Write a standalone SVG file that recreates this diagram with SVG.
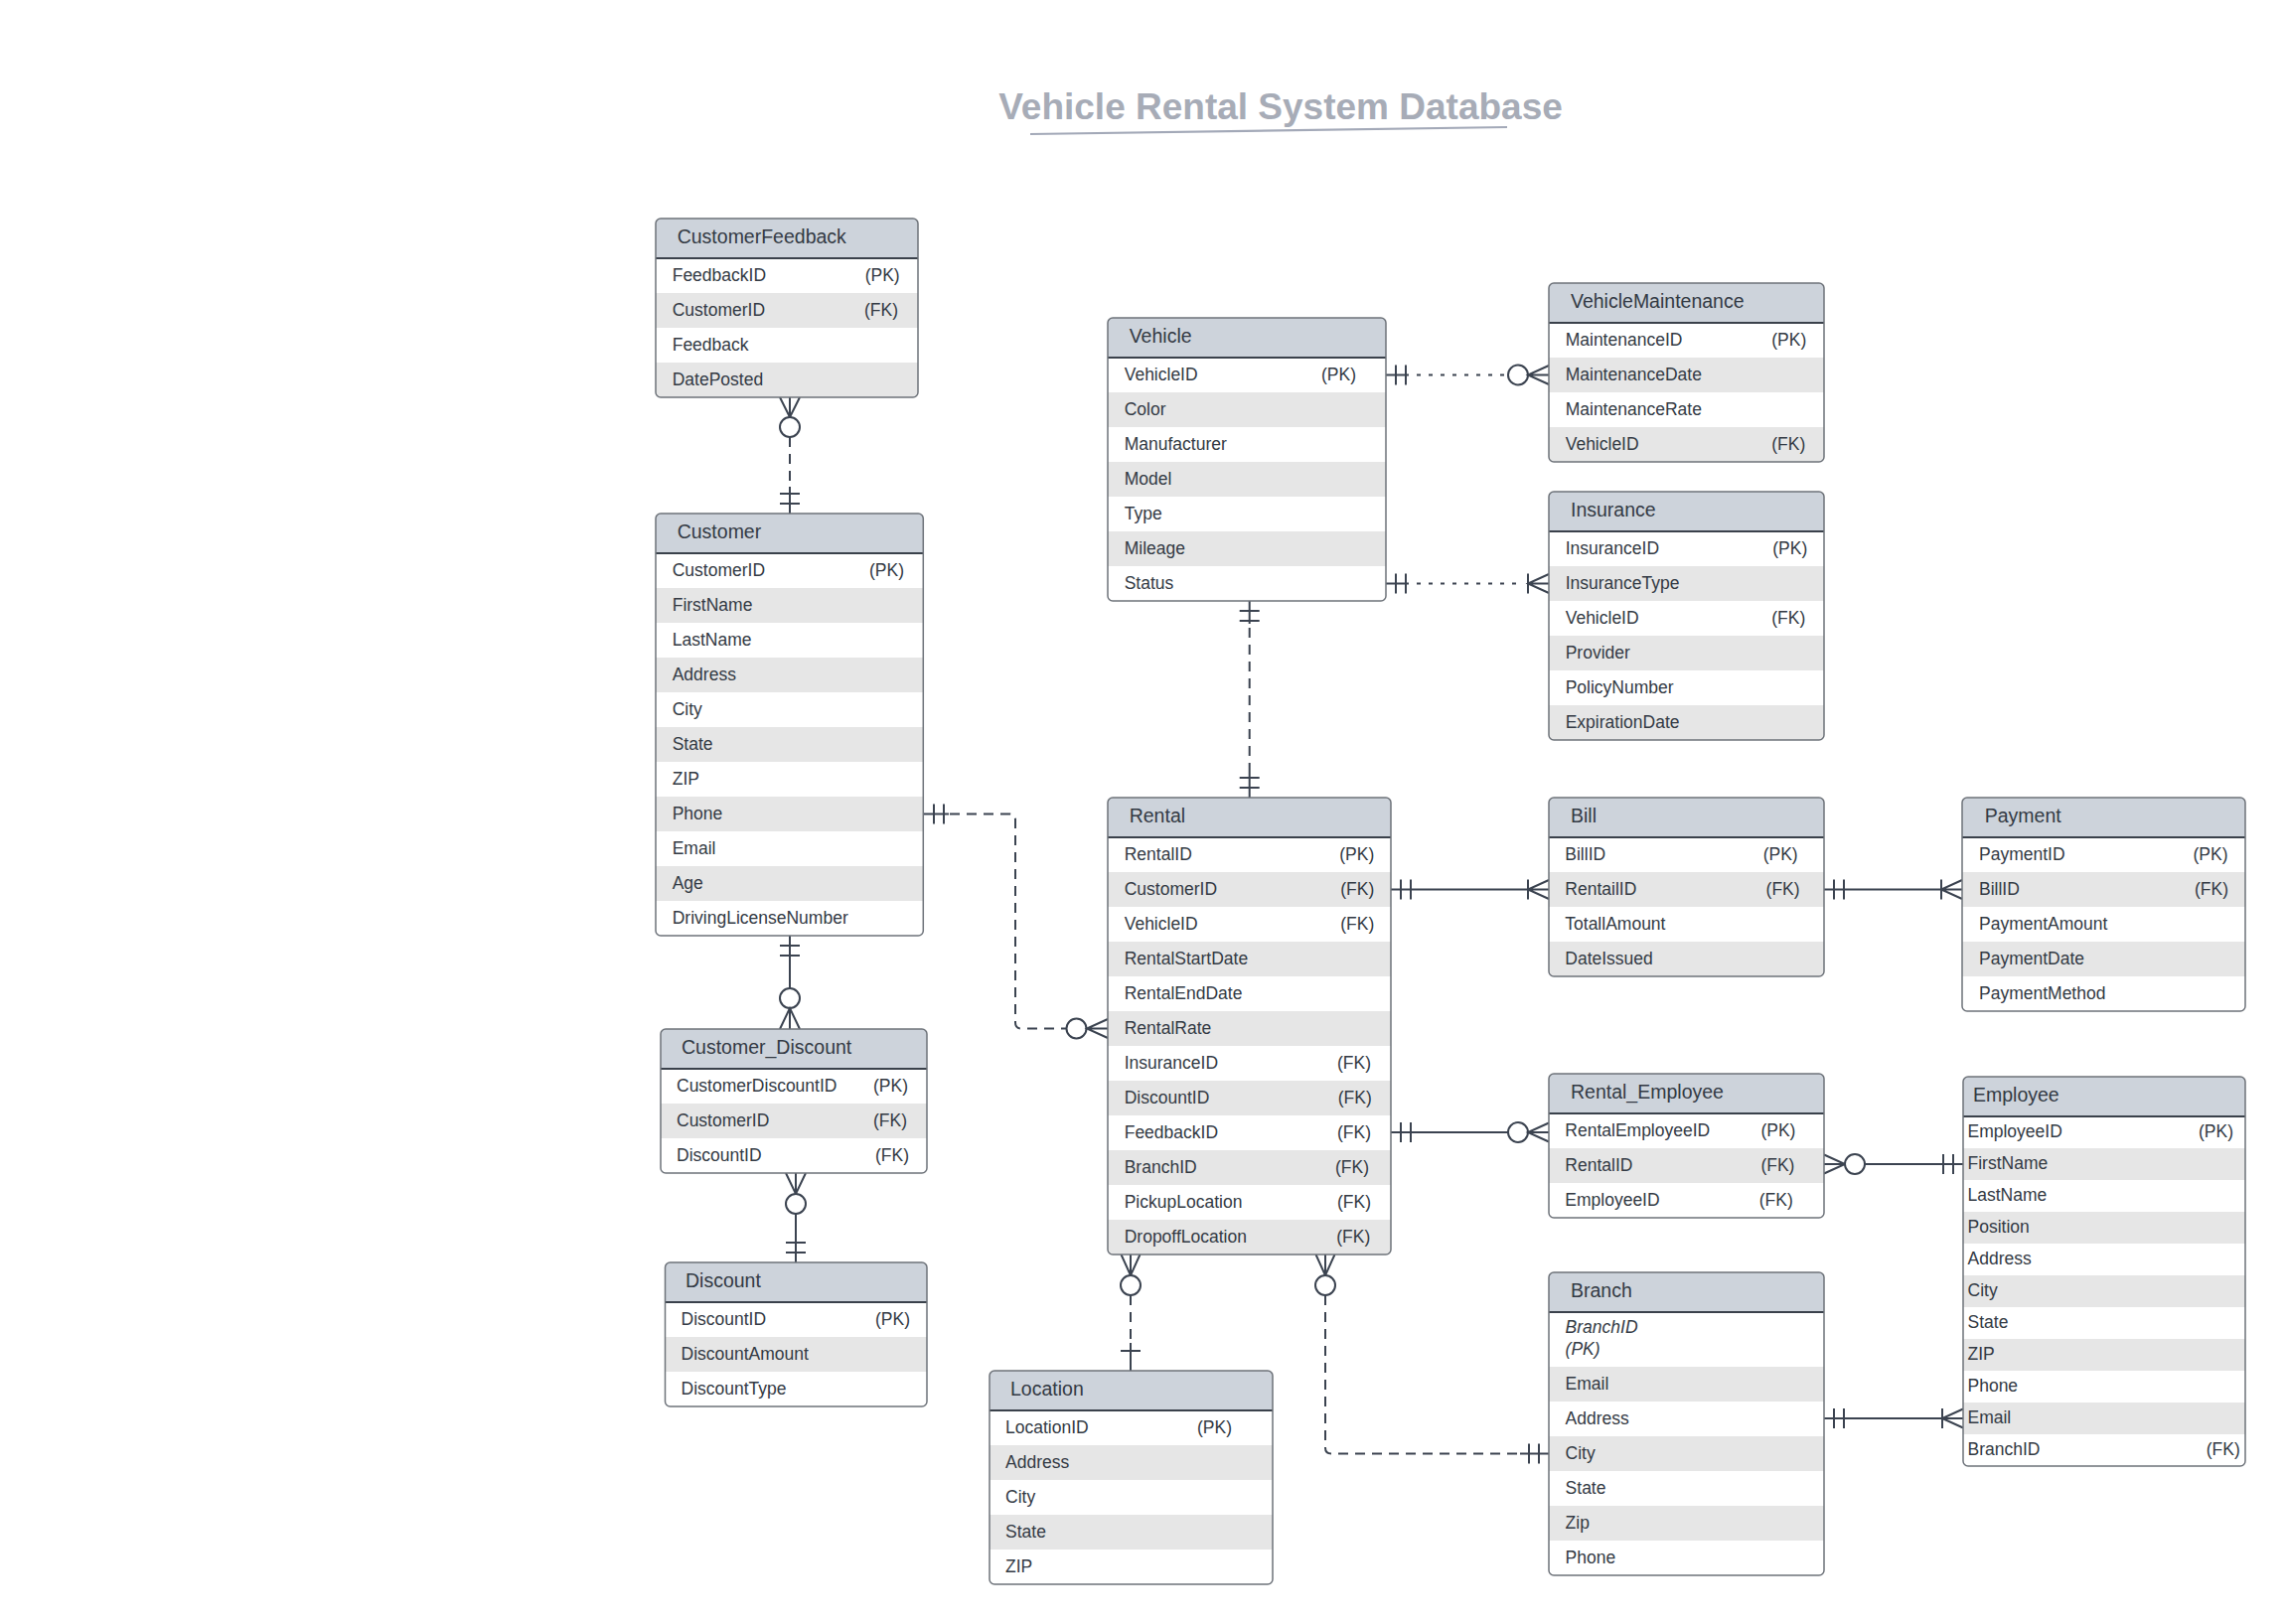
<svg xmlns="http://www.w3.org/2000/svg" width="2301" height="1635" viewBox="0 0 2301 1635">
<style>
.bg{fill:#ffffff}
.hdr{fill:#cdd3db}
.alt{fill:#e6e6e6}
.box{fill:none;stroke:#6e737a;stroke-width:1.5}
.div{stroke:#3a414b;stroke-width:2}
.ht{font-family:"Liberation Sans",Arial,sans-serif;font-size:19.5px;fill:#333a44}
.rt{font-family:"Liberation Sans",Arial,sans-serif;font-size:17.5px;fill:#333a44}
.it{font-style:italic}
.ln{stroke:#3b4350;stroke-width:2;fill:none}
.dash{stroke-dasharray:10 7}
.dot{stroke-dasharray:4 8}
.cir{fill:#ffffff;stroke:#3b4350;stroke-width:2}
.title{font-family:"Liberation Sans",Arial,sans-serif;font-size:37px;font-weight:bold;fill:#a7acb7}
</style>
<defs>
<clipPath id="c1"><rect x="660" y="220" width="264" height="180" rx="5"/></clipPath>
<clipPath id="c2"><rect x="660" y="517" width="269.3" height="425" rx="5"/></clipPath>
<clipPath id="c3"><rect x="665" y="1036" width="268" height="145" rx="5"/></clipPath>
<clipPath id="c4"><rect x="669.5" y="1271" width="263.5" height="145" rx="5"/></clipPath>
<clipPath id="c5"><rect x="996" y="1380" width="285" height="215" rx="5"/></clipPath>
<clipPath id="c6"><rect x="1115" y="320" width="280" height="285" rx="5"/></clipPath>
<clipPath id="c7"><rect x="1559" y="285" width="277" height="180" rx="5"/></clipPath>
<clipPath id="c8"><rect x="1559" y="495" width="277" height="250" rx="5"/></clipPath>
<clipPath id="c9"><rect x="1115" y="803" width="285" height="460" rx="5"/></clipPath>
<clipPath id="c10"><rect x="1559" y="803" width="277" height="180" rx="5"/></clipPath>
<clipPath id="c11"><rect x="1975" y="803" width="285" height="215" rx="5"/></clipPath>
<clipPath id="c12"><rect x="1559" y="1081" width="277" height="145" rx="5"/></clipPath>
<clipPath id="c13"><rect x="1976" y="1084" width="284" height="392" rx="5"/></clipPath>
<clipPath id="c14"><rect x="1559" y="1281" width="277" height="305" rx="5"/></clipPath>
</defs>
<rect x="0" y="0" width="2301" height="1635" fill="#ffffff"/>

<g id="title">
<text class="title" x="1289" y="120" text-anchor="middle">Vehicle Rental System Database</text>
<line x1="1037" y1="135" x2="1517" y2="128" stroke="#a3a9b8" stroke-width="2.2"/>
</g>

<g id="connectors">
<!-- CustomerFeedback - Customer -->
<path class="ln" d="M785,400 L795,420 L805,400 M795,400 V420"/>
<circle class="cir" cx="795" cy="430" r="10"/>
<path class="ln dash" d="M795,440 V492"/>
<path class="ln" d="M795,490 V517 M785,497 H805 M785,507 H805"/>
<!-- Customer - Customer_Discount -->
<path class="ln" d="M795,942 V995 M785,952 H805 M785,962 H805"/>
<circle class="cir" cx="795" cy="1005" r="10"/>
<path class="ln" d="M785,1036 L795,1015 L805,1036 M795,1015 V1036"/>
<!-- Customer_Discount - Discount -->
<path class="ln" d="M791,1181 L801,1202 L811,1181 M801,1181 V1202"/>
<circle class="cir" cx="801" cy="1212" r="10"/>
<path class="ln" d="M801,1222 V1271 M791,1251 H811 M791,1261 H811"/>
<!-- Customer - Rental -->
<path class="ln" d="M929.3,819.5 H955 M940,809.5 V829.5 M950,809.5 V829.5"/>
<path class="ln dash" d="M956,819.5 H1016 Q1022,819.5 1022,825.5 V1029.5 Q1022,1035.5 1028,1035.5 H1073.5"/>
<circle class="cir" cx="1083.5" cy="1035.5" r="10"/>
<path class="ln" d="M1115,1026 L1094,1035.5 L1115,1045 M1094,1035.5 H1115"/>
<!-- Vehicle - VehicleMaintenance -->
<path class="ln" d="M1395,377.5 H1418 M1405,367.5 V387.5 M1415,367.5 V387.5"/>
<path class="ln dot" d="M1426,377.5 H1517.5"/>
<circle class="cir" cx="1528" cy="377.5" r="10"/>
<path class="ln" d="M1559,368 L1538,377.5 L1559,387 M1538,377.5 H1559"/>
<!-- Vehicle - Insurance -->
<path class="ln" d="M1395,587.5 H1418 M1405,577.5 V597.5 M1415,577.5 V597.5"/>
<path class="ln dot" d="M1426,587.5 H1534"/>
<path class="ln" d="M1538,577.5 V597.5 M1559,578 L1538,587.5 L1559,597 M1538,587.5 H1559"/>
<!-- Vehicle - Rental -->
<path class="ln" d="M1257.7,605 V628 M1247.7,615 H1267.7 M1247.7,625 H1267.7"/>
<path class="ln dash" d="M1257.7,632 V778"/>
<path class="ln" d="M1257.7,778 V803 M1247.7,783 H1267.7 M1247.7,793 H1267.7"/>
<!-- Rental - Bill -->
<path class="ln" d="M1400,895.5 H1559 M1410,885.5 V905.5 M1420,885.5 V905.5 M1538,885.5 V905.5 M1559,886 L1538,895.5 L1559,905"/>
<!-- Bill - Payment -->
<path class="ln" d="M1836,895.5 H1975 M1846,885.5 V905.5 M1856,885.5 V905.5 M1954,885.5 V905.5 M1975,886 L1954,895.5 L1975,905"/>
<!-- Rental - Rental_Employee -->
<path class="ln" d="M1400,1140 H1518 M1410,1130 V1150 M1420,1130 V1150"/>
<circle class="cir" cx="1528" cy="1140" r="10"/>
<path class="ln" d="M1559,1130.5 L1538,1140 L1559,1149.5 M1538,1140 H1559"/>
<!-- Rental_Employee - Employee -->
<path class="ln" d="M1836,1162.5 L1857,1172 L1836,1181.5 M1836,1172 H1857"/>
<circle class="cir" cx="1867" cy="1172" r="10"/>
<path class="ln" d="M1877,1172 H1976 M1956,1162 V1182 M1966,1162 V1182"/>
<!-- Branch - Employee -->
<path class="ln" d="M1836,1428 H1976 M1846,1418 V1438 M1856,1418 V1438 M1955,1418 V1438 M1976,1418.5 L1955,1428 L1976,1437.5"/>
<!-- Rental - Location -->
<path class="ln" d="M1128.5,1263 L1138,1284 L1147.5,1263 M1138,1263 V1284"/>
<circle class="cir" cx="1138" cy="1294" r="10"/>
<path class="ln dash" d="M1138,1304 V1352"/>
<path class="ln" d="M1138,1352 V1380 M1128,1360 H1148"/>
<!-- Rental - Branch -->
<path class="ln" d="M1324.5,1263 L1334,1284 L1343.5,1263 M1334,1263 V1284"/>
<circle class="cir" cx="1334" cy="1294" r="10"/>
<path class="ln dash" d="M1334,1304 V1457.5 Q1334,1463.5 1340,1463.5 H1532"/>
<path class="ln" d="M1530,1463.5 H1559 M1539,1453.5 V1473.5 M1549,1453.5 V1473.5"/>
</g>

<g id="customerfeedback">
<g clip-path="url(#c1)">
<rect class="bg" x="660" y="220" width="264" height="180"/>
<rect class="hdr" x="660" y="220" width="264" height="40"/>
<rect class="alt" x="660" y="295" width="264" height="35"/>
<rect class="alt" x="660" y="365" width="264" height="35"/>
</g>
<line class="div" x1="660" y1="260" x2="924" y2="260"/>
<rect class="box" x="660" y="220" width="264" height="180" rx="5"/>
<text class="ht" x="681.7" y="245">CustomerFeedback</text>
<text class="rt" x="676.7" y="282.5">FeedbackID</text><text class="rt" x="870.7" y="282.5">(PK)</text>
<text class="rt" x="676.7" y="317.5">CustomerID</text><text class="rt" x="870" y="317.5">(FK)</text>
<text class="rt" x="676.7" y="352.5">Feedback</text>
<text class="rt" x="676.7" y="387.5">DatePosted</text>
</g>

<g id="customer">
<g clip-path="url(#c2)">
<rect class="bg" x="660" y="517" width="269.3" height="425"/>
<rect class="hdr" x="660" y="517" width="269.3" height="40"/>
<rect class="alt" x="660" y="592" width="269.3" height="35"/>
<rect class="alt" x="660" y="662" width="269.3" height="35"/>
<rect class="alt" x="660" y="732" width="269.3" height="35"/>
<rect class="alt" x="660" y="802" width="269.3" height="35"/>
<rect class="alt" x="660" y="872" width="269.3" height="35"/>
</g>
<line class="div" x1="660" y1="557" x2="929.3" y2="557"/>
<rect class="box" x="660" y="517" width="269.3" height="425" rx="5"/>
<text class="ht" x="681.7" y="542">Customer</text>
<text class="rt" x="676.7" y="579.5">CustomerID</text><text class="rt" x="875" y="579.5">(PK)</text>
<text class="rt" x="676.7" y="614.5">FirstName</text>
<text class="rt" x="676.7" y="649.5">LastName</text>
<text class="rt" x="676.7" y="684.5">Address</text>
<text class="rt" x="676.7" y="719.5">City</text>
<text class="rt" x="676.7" y="754.5">State</text>
<text class="rt" x="676.7" y="789.5">ZIP</text>
<text class="rt" x="676.7" y="824.5">Phone</text>
<text class="rt" x="676.7" y="859.5">Email</text>
<text class="rt" x="676.7" y="894.5">Age</text>
<text class="rt" x="676.7" y="929.5">DrivingLicenseNumber</text>
</g>

<g id="customer_discount">
<g clip-path="url(#c3)">
<rect class="bg" x="665" y="1036" width="268" height="145"/>
<rect class="hdr" x="665" y="1036" width="268" height="40"/>
<rect class="alt" x="665" y="1111" width="268" height="35"/>
</g>
<line class="div" x1="665" y1="1076" x2="933" y2="1076"/>
<rect class="box" x="665" y="1036" width="268" height="145" rx="5"/>
<text class="ht" x="686" y="1061">Customer_Discount</text>
<text class="rt" x="681" y="1098.5">CustomerDiscountID</text><text class="rt" x="879" y="1098.5">(PK)</text>
<text class="rt" x="681" y="1133.5">CustomerID</text><text class="rt" x="879" y="1133.5">(FK)</text>
<text class="rt" x="681" y="1168.5">DiscountID</text><text class="rt" x="881" y="1168.5">(FK)</text>
</g>

<g id="discount">
<g clip-path="url(#c4)">
<rect class="bg" x="669.5" y="1271" width="263.5" height="145"/>
<rect class="hdr" x="669.5" y="1271" width="263.5" height="40"/>
<rect class="alt" x="669.5" y="1346" width="263.5" height="35"/>
</g>
<line class="div" x1="669.5" y1="1311" x2="933" y2="1311"/>
<rect class="box" x="669.5" y="1271" width="263.5" height="145" rx="5"/>
<text class="ht" x="690" y="1296">Discount</text>
<text class="rt" x="685.5" y="1333.5">DiscountID</text><text class="rt" x="881" y="1333.5">(PK)</text>
<text class="rt" x="685.5" y="1368.5">DiscountAmount</text>
<text class="rt" x="685.5" y="1403.5">DiscountType</text>
</g>

<g id="location">
<g clip-path="url(#c5)">
<rect class="bg" x="996" y="1380" width="285" height="215"/>
<rect class="hdr" x="996" y="1380" width="285" height="40"/>
<rect class="alt" x="996" y="1455" width="285" height="35"/>
<rect class="alt" x="996" y="1525" width="285" height="35"/>
</g>
<line class="div" x1="996" y1="1420" x2="1281" y2="1420"/>
<rect class="box" x="996" y="1380" width="285" height="215" rx="5"/>
<text class="ht" x="1017" y="1405">Location</text>
<text class="rt" x="1012" y="1442.5">LocationID</text><text class="rt" x="1205" y="1442.5">(PK)</text>
<text class="rt" x="1012" y="1477.5">Address</text>
<text class="rt" x="1012" y="1512.5">City</text>
<text class="rt" x="1012" y="1547.5">State</text>
<text class="rt" x="1012" y="1582.5">ZIP</text>
</g>

<g id="vehicle">
<g clip-path="url(#c6)">
<rect class="bg" x="1115" y="320" width="280" height="285"/>
<rect class="hdr" x="1115" y="320" width="280" height="40"/>
<rect class="alt" x="1115" y="395" width="280" height="35"/>
<rect class="alt" x="1115" y="465" width="280" height="35"/>
<rect class="alt" x="1115" y="535" width="280" height="35"/>
</g>
<line class="div" x1="1115" y1="360" x2="1395" y2="360"/>
<rect class="box" x="1115" y="320" width="280" height="285" rx="5"/>
<text class="ht" x="1136.7" y="345">Vehicle</text>
<text class="rt" x="1131.7" y="382.5">VehicleID</text><text class="rt" x="1330" y="382.5">(PK)</text>
<text class="rt" x="1131.7" y="417.5">Color</text>
<text class="rt" x="1131.7" y="452.5">Manufacturer</text>
<text class="rt" x="1131.7" y="487.5">Model</text>
<text class="rt" x="1131.7" y="522.5">Type</text>
<text class="rt" x="1131.7" y="557.5">Mileage</text>
<text class="rt" x="1131.7" y="592.5">Status</text>
</g>

<g id="vehiclemaintenance">
<g clip-path="url(#c7)">
<rect class="bg" x="1559" y="285" width="277" height="180"/>
<rect class="hdr" x="1559" y="285" width="277" height="40"/>
<rect class="alt" x="1559" y="360" width="277" height="35"/>
<rect class="alt" x="1559" y="430" width="277" height="35"/>
</g>
<line class="div" x1="1559" y1="325" x2="1836" y2="325"/>
<rect class="box" x="1559" y="285" width="277" height="180" rx="5"/>
<text class="ht" x="1581" y="310">VehicleMaintenance</text>
<text class="rt" x="1575.7" y="347.5">MaintenanceID</text><text class="rt" x="1783.3" y="347.5">(PK)</text>
<text class="rt" x="1575.7" y="382.5">MaintenanceDate</text>
<text class="rt" x="1575.7" y="417.5">MaintenanceRate</text>
<text class="rt" x="1575.7" y="452.5">VehicleID</text><text class="rt" x="1783.3" y="452.5">(FK)</text>
</g>

<g id="insurance">
<g clip-path="url(#c8)">
<rect class="bg" x="1559" y="495" width="277" height="250"/>
<rect class="hdr" x="1559" y="495" width="277" height="40"/>
<rect class="alt" x="1559" y="570" width="277" height="35"/>
<rect class="alt" x="1559" y="640" width="277" height="35"/>
<rect class="alt" x="1559" y="710" width="277" height="35"/>
</g>
<line class="div" x1="1559" y1="535" x2="1836" y2="535"/>
<rect class="box" x="1559" y="495" width="277" height="250" rx="5"/>
<text class="ht" x="1581" y="520">Insurance</text>
<text class="rt" x="1575.7" y="557.5">InsuranceID</text><text class="rt" x="1784.3" y="557.5">(PK)</text>
<text class="rt" x="1575.7" y="592.5">InsuranceType</text>
<text class="rt" x="1575.7" y="627.5">VehicleID</text><text class="rt" x="1783.3" y="627.5">(FK)</text>
<text class="rt" x="1575.7" y="662.5">Provider</text>
<text class="rt" x="1575.7" y="697.5">PolicyNumber</text>
<text class="rt" x="1575.7" y="732.5">ExpirationDate</text>
</g>

<g id="rental">
<g clip-path="url(#c9)">
<rect class="bg" x="1115" y="803" width="285" height="460"/>
<rect class="hdr" x="1115" y="803" width="285" height="40"/>
<rect class="alt" x="1115" y="878" width="285" height="35"/>
<rect class="alt" x="1115" y="948" width="285" height="35"/>
<rect class="alt" x="1115" y="1018" width="285" height="35"/>
<rect class="alt" x="1115" y="1088" width="285" height="35"/>
<rect class="alt" x="1115" y="1158" width="285" height="35"/>
<rect class="alt" x="1115" y="1228" width="285" height="35"/>
</g>
<line class="div" x1="1115" y1="843" x2="1400" y2="843"/>
<rect class="box" x="1115" y="803" width="285" height="460" rx="5"/>
<text class="ht" x="1136.7" y="828">Rental</text>
<text class="rt" x="1131.7" y="865.5">RentalID</text><text class="rt" x="1348.3" y="865.5">(PK)</text>
<text class="rt" x="1131.7" y="900.5">CustomerID</text><text class="rt" x="1349.3" y="900.5">(FK)</text>
<text class="rt" x="1131.7" y="935.5">VehicleID</text><text class="rt" x="1349.3" y="935.5">(FK)</text>
<text class="rt" x="1131.7" y="970.5">RentalStartDate</text>
<text class="rt" x="1131.7" y="1005.5">RentalEndDate</text>
<text class="rt" x="1131.7" y="1040.5">RentalRate</text>
<text class="rt" x="1131.7" y="1075.5">InsuranceID</text><text class="rt" x="1346" y="1075.5">(FK)</text>
<text class="rt" x="1131.7" y="1110.5">DiscountID</text><text class="rt" x="1346.7" y="1110.5">(FK)</text>
<text class="rt" x="1131.7" y="1145.5">FeedbackID</text><text class="rt" x="1346" y="1145.5">(FK)</text>
<text class="rt" x="1131.7" y="1180.5">BranchID</text><text class="rt" x="1344" y="1180.5">(FK)</text>
<text class="rt" x="1131.7" y="1215.5">PickupLocation</text><text class="rt" x="1346" y="1215.5">(FK)</text>
<text class="rt" x="1131.7" y="1250.5">DropoffLocation</text><text class="rt" x="1345.3" y="1250.5">(FK)</text>
</g>

<g id="bill">
<g clip-path="url(#c10)">
<rect class="bg" x="1559" y="803" width="277" height="180"/>
<rect class="hdr" x="1559" y="803" width="277" height="40"/>
<rect class="alt" x="1559" y="878" width="277" height="35"/>
<rect class="alt" x="1559" y="948" width="277" height="35"/>
</g>
<line class="div" x1="1559" y1="843" x2="1836" y2="843"/>
<rect class="box" x="1559" y="803" width="277" height="180" rx="5"/>
<text class="ht" x="1581" y="828">Bill</text>
<text class="rt" x="1575.3" y="865.5">BillID</text><text class="rt" x="1774.7" y="865.5">(PK)</text>
<text class="rt" x="1575.3" y="900.5">RentailID</text><text class="rt" x="1777.6" y="900.5">(FK)</text>
<text class="rt" x="1575.3" y="935.5">TotallAmount</text>
<text class="rt" x="1575.3" y="970.5">DateIssued</text>
</g>

<g id="payment">
<g clip-path="url(#c11)">
<rect class="bg" x="1975" y="803" width="285" height="215"/>
<rect class="hdr" x="1975" y="803" width="285" height="40"/>
<rect class="alt" x="1975" y="878" width="285" height="35"/>
<rect class="alt" x="1975" y="948" width="285" height="35"/>
</g>
<line class="div" x1="1975" y1="843" x2="2260" y2="843"/>
<rect class="box" x="1975" y="803" width="285" height="215" rx="5"/>
<text class="ht" x="1997.7" y="828">Payment</text>
<text class="rt" x="1992" y="865.5">PaymentID</text><text class="rt" x="2207.5" y="865.5">(PK)</text>
<text class="rt" x="1992" y="900.5">BillID</text><text class="rt" x="2209" y="900.5">(FK)</text>
<text class="rt" x="1992" y="935.5">PaymentAmount</text>
<text class="rt" x="1992" y="970.5">PaymentDate</text>
<text class="rt" x="1992" y="1005.5">PaymentMethod</text>
</g>

<g id="rental_employee">
<g clip-path="url(#c12)">
<rect class="bg" x="1559" y="1081" width="277" height="145"/>
<rect class="hdr" x="1559" y="1081" width="277" height="40"/>
<rect class="alt" x="1559" y="1156" width="277" height="35"/>
</g>
<line class="div" x1="1559" y1="1121" x2="1836" y2="1121"/>
<rect class="box" x="1559" y="1081" width="277" height="145" rx="5"/>
<text class="ht" x="1581" y="1106">Rental_Employee</text>
<text class="rt" x="1575.3" y="1143.5">RentalEmployeeID</text><text class="rt" x="1772.4" y="1143.5">(PK)</text>
<text class="rt" x="1575.3" y="1178.5">RentalID</text><text class="rt" x="1772.4" y="1178.5">(FK)</text>
<text class="rt" x="1575.3" y="1213.5">EmployeeID</text><text class="rt" x="1770.7" y="1213.5">(FK)</text>
</g>

<g id="employee">
<g clip-path="url(#c13)">
<rect class="bg" x="1976" y="1084" width="284" height="392"/>
<rect class="hdr" x="1976" y="1084" width="284" height="40"/>
<rect class="alt" x="1976" y="1156" width="284" height="32"/>
<rect class="alt" x="1976" y="1220" width="284" height="32"/>
<rect class="alt" x="1976" y="1284" width="284" height="32"/>
<rect class="alt" x="1976" y="1348" width="284" height="32"/>
<rect class="alt" x="1976" y="1412" width="284" height="32"/>
</g>
<line class="div" x1="1976" y1="1124" x2="2260" y2="1124"/>
<rect class="box" x="1976" y="1084" width="284" height="392" rx="5"/>
<text class="ht" x="1986" y="1109">Employee</text>
<text class="rt" x="1980.5" y="1145">EmployeeID</text><text class="rt" x="2213" y="1145">(PK)</text>
<text class="rt" x="1980.5" y="1177">FirstName</text>
<text class="rt" x="1980.5" y="1209">LastName</text>
<text class="rt" x="1980.5" y="1241">Position</text>
<text class="rt" x="1980.5" y="1273">Address</text>
<text class="rt" x="1980.5" y="1305">City</text>
<text class="rt" x="1980.5" y="1337">State</text>
<text class="rt" x="1980.5" y="1369">ZIP</text>
<text class="rt" x="1980.5" y="1401">Phone</text>
<text class="rt" x="1980.5" y="1433">Email</text>
<text class="rt" x="1980.5" y="1465">BranchID</text><text class="rt" x="2220.7" y="1465">(FK)</text>
</g>

<g id="branch">
<g clip-path="url(#c14)">
<rect class="bg" x="1559" y="1281" width="277" height="305"/>
<rect class="hdr" x="1559" y="1281" width="277" height="40"/>
<rect class="alt" x="1559" y="1376" width="277" height="35"/>
<rect class="alt" x="1559" y="1446" width="277" height="35"/>
<rect class="alt" x="1559" y="1516" width="277" height="35"/>
</g>
<line class="div" x1="1559" y1="1321" x2="1836" y2="1321"/>
<rect class="box" x="1559" y="1281" width="277" height="305" rx="5"/>
<text class="ht" x="1581" y="1306">Branch</text>
<text class="rt it" x="1575.6" y="1342">BranchID</text>
<text class="rt it" x="1575.6" y="1363.5">(PK)</text>
<text class="rt" x="1575.6" y="1398.5">Email</text>
<text class="rt" x="1575.6" y="1433.5">Address</text>
<text class="rt" x="1575.6" y="1468.5">City</text>
<text class="rt" x="1575.6" y="1503.5">State</text>
<text class="rt" x="1575.6" y="1538.5">Zip</text>
<text class="rt" x="1575.6" y="1573.5">Phone</text>
</g>
</svg>
